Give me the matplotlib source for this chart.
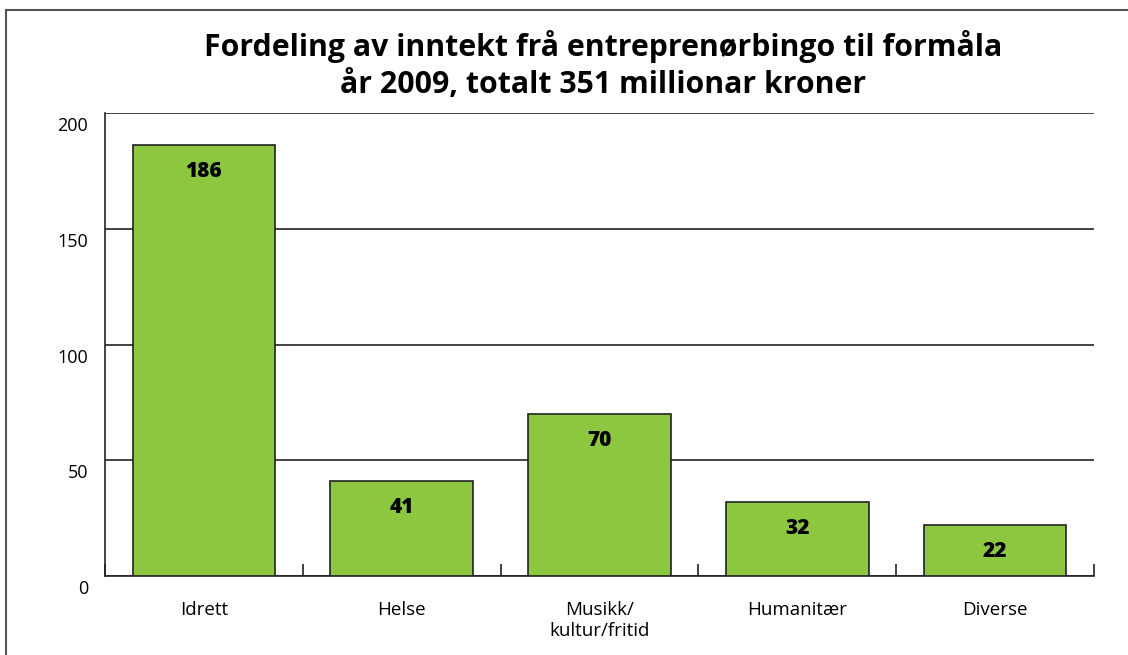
import numpy as np
import matplotlib.pyplot as plt
import matplotlib.transforms as mtrans
from matplotlib.patches import Rectangle

# Verdiar lest frå figuren (millionar kroner)
kategoriar = ["Idrett", "Helse", "Musikk/\nkultur/fritid", "Humanitær", "Diverse"]
verdiar = [186, 41, 70, 32, 22]
y_ticks = [0, 50, 100, 150, 200]

plt.rcParams['font.family'] = ['Open Sans', 'DejaVu Sans']

fig = plt.figure(figsize=(11.28, 6.55), dpi=100)
ax = fig.add_axes([105/1128, 1 - 576/655, 989/1128, 463/655])

# ramme rundt heile figuren
fig.patches.append(Rectangle((6/1128, -0.1), 1.2, 1.1 - 10/655, transform=fig.transFigure,
                             fill=False, edgecolor='#555555', linewidth=1.5))

x = np.arange(len(kategoriar))
ax.bar(x, verdiar, width=0.72, color='#8dc63f', edgecolor='#222222', linewidth=1.2, zorder=3)

for xi, v in zip(x, verdiar):
    ax.annotate(str(v), (xi, v), xytext=(0, -19), textcoords='offset points',
                ha='center', va='center', fontsize=15, fontweight='heavy', zorder=4)

ax.set_xlim(-0.5, len(kategoriar) - 0.5)
ax.set_ylim(0, 200)
ax.set_yticks(y_ticks)
ax.yaxis.grid(True, color='#111111', linewidth=1.1, zorder=0)
ax.tick_params(axis='y', length=0, pad=12, labelsize=13)
flytt = mtrans.ScaledTranslation(0, -3/72, fig.dpi_scale_trans)
for lab in ax.get_yticklabels():
    lab.set_va('top')
    lab.set_transform(lab.get_transform() + flytt)

ax.set_xticks(x)
ax.set_xticklabels(kategoriar, fontsize=13.5, linespacing=1.25)
ax.tick_params(axis='x', which='major', length=0, pad=18)
ax.set_xticks(np.arange(len(kategoriar) + 1) - 0.5, minor=True)
ax.tick_params(axis='x', which='minor', direction='in', length=9, width=1.2, color='#222222')

for s in ['top', 'right']:
    ax.spines[s].set_visible(False)
ax.spines['left'].set_linewidth(1.2)
ax.spines['bottom'].set_linewidth(1.2)
ax.spines['left'].set_color('#222222')
ax.spines['bottom'].set_color('#222222')

fig.text(0.535, 1 - 65/655, "Fordeling av inntekt frå entreprenørbingo til formåla\når 2009, totalt 351 millionar kroner",
         ha='center', va='center', fontsize=21.8, fontweight='bold', linespacing=1.3)

fig.savefig("out.png", dpi=100)
